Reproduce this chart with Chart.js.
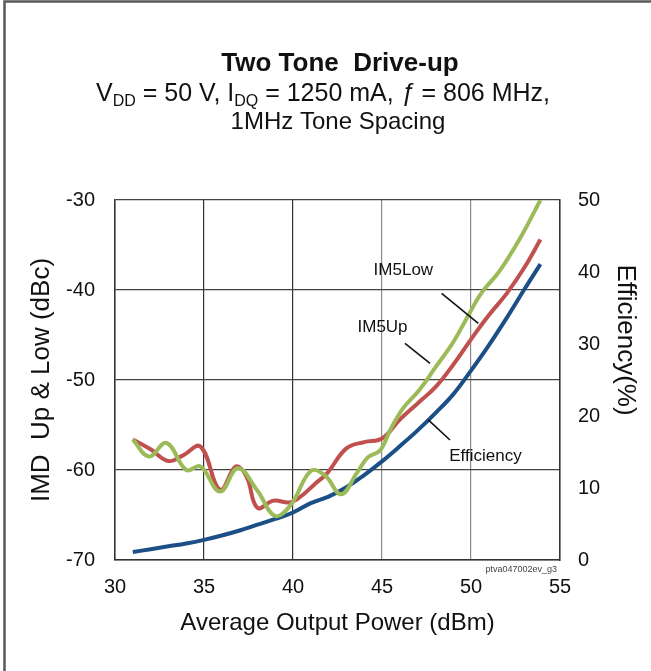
<!DOCTYPE html>
<html><head><meta charset="utf-8">
<script src="https://cdn.jsdelivr.net/npm/chart.js@4.4.1/dist/chart.umd.min.js"></script>
<style>html,body{margin:0;padding:0;background:#fff;}#wrap{width:651px;height:671px;}</style>
</head><body><div id="wrap"><canvas id="c" width="651" height="671"></canvas></div>
<script>
const FONT = '"Liberation Sans", Arial, Helvetica, sans-serif';

// ---- data ----
const xTickValues = [30, 35, 40, 45, 50, 55];
const leftTickValues = [-70, -60, -50, -40, -30];
const rightTickValues = [0, 10, 20, 30, 40, 50];

const im5UpPower = [31.0,31.9,32.9,34.0,34.8,35.9,36.9,38.0,39.0,39.9,41.0,41.8,42.7,43.6,44.2,44.9,45.5,46.2,47.1,48.0,49.0,49.8,50.6,51.6,52.8,53.9];
const im5UpDbc   = [-56.6,-58.5,-57.0,-60.0,-59.6,-62.4,-59.8,-62.3,-65.1,-63.8,-60.1,-60.6,-62.7,-60.3,-58.6,-57.8,-55.4,-53.1,-51.1,-48.6,-45.8,-43.0,-40.3,-37.9,-34.1,-30.0];

const im5LowPower = [31.0,32.0,33.0,33.8,34.8,35.9,36.8,37.4,38.0,38.9,39.8,40.4,41.2,41.9,43.0,44.0,45.0,46.0,47.0,48.0,49.0,50.1,51.0,52.0,53.0,53.9];
const im5LowDbc   = [-56.6,-57.7,-59.0,-58.4,-57.4,-62.2,-59.6,-60.8,-64.2,-63.4,-63.6,-63.0,-61.6,-60.4,-57.6,-56.9,-56.5,-54.4,-52.6,-50.8,-48.3,-45.2,-42.8,-40.4,-37.5,-34.4];

const effPower   = [31,32,33,34,35,36,37,38,39,40,41,42,43,44,45,46,47,48,49,50,51,52,53,53.9];
const efficiency = [1.1,1.5,1.9,2.3,2.8,3.4,4.1,4.9,5.7,6.6,7.9,8.8,10.1,11.8,13.7,15.8,18.0,20.4,23.0,26.3,29.8,33.6,37.6,41.1];

// annotation labels (data units on x / left axis)
const notes = [
  {text: 'IM5Low',     x: 46.2,  y: -37.8, from: [48.35, -40.37], to: [50.41, -43.70]},
  {text: 'IM5Up',      x: 45.03, y: -44.2, from: [46.29, -45.92], to: [47.70, -48.14]},
  {text: 'Efficiency', x: 50.81, y: -58.44, from: [47.60, -54.44], to: [48.82, -56.67]}
];

const toPts = (xs, ys) => xs.map((x, i) => ({x: x, y: ys[i]}));

const frameAndText = {
  id: 'frameAndText',
  beforeDraw(chart) {
    const ctx = chart.ctx;
    ctx.save();
    ctx.fillStyle = '#fff';
    ctx.fillRect(0, 0, chart.width, chart.height);
    ctx.strokeStyle = '#5a5a5a';
    ctx.lineWidth = 2.5;
    ctx.beginPath();
    ctx.moveTo(4.5, chart.height);
    ctx.lineTo(4.5, 1.5);
    ctx.lineTo(chart.width, 1.5);
    ctx.stroke();
    ctx.restore();
  },
  afterDraw(chart) {
    const ctx = chart.ctx;
    ctx.save();
    ctx.fillStyle = '#111';
    ctx.textBaseline = 'alphabetic';
    // main title
    ctx.font = 'bold 26px ' + FONT;
    ctx.textAlign = 'center';
    ctx.fillText('Two Tone  Drive-up', 340, 71);
    // subtitle line with subscripts
    const segs = [
      {t: 'V'}, {t: 'DD', sub: true}, {t: ' = 50 V, I'}, {t: 'DQ', sub: true},
      {t: ' = 1250 mA, '}, {t: 'ƒ', it: true}, {t: ' = 806 MHz,'}
    ];
    const fontFor = s => (s.it ? 'italic ' : '') + (s.sub ? '16px ' : '25px ') + FONT;
    let total = 0;
    segs.forEach(s => { ctx.font = fontFor(s); s.w = ctx.measureText(s.t).width; total += s.w; });
    let cx = 323 - total / 2;
    ctx.textAlign = 'left';
    segs.forEach(s => {
      ctx.font = fontFor(s);
      ctx.fillText(s.t, cx, s.sub ? 106 : 101);
      cx += s.w;
    });
    ctx.font = '24px ' + FONT;
    ctx.textAlign = 'center';
    ctx.fillText('1MHz Tone Spacing', 338, 129);
    // right axis title
    ctx.save();
    ctx.translate(625, 340);
    ctx.rotate(Math.PI / 2);
    ctx.font = '26px ' + FONT;
    ctx.textAlign = 'center';
    ctx.textBaseline = 'middle';
    ctx.fillText('Efficiency(%)', 0, 0);
    ctx.restore();
    // watermark
    ctx.font = '9px ' + FONT;
    ctx.textAlign = 'right';
    ctx.textBaseline = 'middle';
    ctx.fillStyle = '#444';
    ctx.fillText('ptva047002ev_g3', 557, 570);
    ctx.restore();
  },
  afterDatasetsDraw(chart) {
    const ctx = chart.ctx;
    const xs = chart.scales.x, ys = chart.scales.y;
    ctx.save();
    ctx.strokeStyle = '#111';
    ctx.lineWidth = 1.6;
    ctx.fillStyle = '#111';
    ctx.font = '17px ' + FONT;
    ctx.textAlign = 'center';
    ctx.textBaseline = 'middle';
    notes.forEach(n => {
      ctx.beginPath();
      ctx.moveTo(xs.getPixelForValue(n.from[0]), ys.getPixelForValue(n.from[1]));
      ctx.lineTo(xs.getPixelForValue(n.to[0]), ys.getPixelForValue(n.to[1]));
      ctx.stroke();
      ctx.fillText(n.text, xs.getPixelForValue(n.x), ys.getPixelForValue(n.y));
    });
    ctx.restore();
  }
};

const lineStyle = {pointRadius: 0, borderWidth: 4, tension: 0.4, fill: false};

new Chart(document.getElementById('c'), {
  type: 'line',
  data: {
    datasets: [
      Object.assign({label: 'IM5Up', data: toPts(im5UpPower, im5UpDbc), borderColor: '#9BBB59', yAxisID: 'y'}, lineStyle),
      Object.assign({label: 'IM5Low', data: toPts(im5LowPower, im5LowDbc), borderColor: '#C0504D', yAxisID: 'y'}, lineStyle),
      Object.assign({label: 'Efficiency', data: toPts(effPower, efficiency), borderColor: '#1B4F86', yAxisID: 'y1'}, lineStyle)
    ]
  },
  options: {
    responsive: false,
    animation: false,
    events: [],
    layout: {padding: {top: 200, left: 0, right: 0, bottom: 0}},
    plugins: {legend: {display: false}, tooltip: {enabled: false}, title: {display: false}},
    scales: {
      x: {
        type: 'linear', position: 'bottom', min: 30, max: 55,
        afterBuildTicks: s => { s.ticks = xTickValues.map(v => ({value: v})); },
        afterFit: s => { s.height = 111; },
        ticks: {font: {family: FONT, size: 20}, color: '#111', padding: 15, maxRotation: 0},
        grid: {drawTicks: false, lineWidth: 1.2,
          color: c => (c.tick && (c.tick.value === 45 || c.tick.value === 50)) ? '#8a8a8a' : '#333'},
        border: {display: true, color: '#333', width: 1.5},
        title: {display: true, text: 'Average Output Power (dBm)', font: {family: FONT, size: 24}, color: '#111', padding: {top: 0, bottom: 33}}
      },
      y: {
        type: 'linear', position: 'left', min: -70, max: -30,
        afterBuildTicks: s => { s.ticks = leftTickValues.map(v => ({value: v})); },
        afterFit: s => { s.width = 115; },
        ticks: {font: {family: FONT, size: 20}, color: '#111', padding: 20},
        grid: {drawTicks: false, lineWidth: 1.2, color: '#444'},
        border: {display: true, color: '#333', width: 1.5},
        title: {display: true, text: 'IMD  Up & Low (dBc)', font: {family: FONT, size: 26}, color: '#111', padding: {top: 26, bottom: 0}}
      },
      y1: {
        type: 'linear', position: 'right', min: 0, max: 50,
        afterBuildTicks: s => { s.ticks = rightTickValues.map(v => ({value: v})); },
        afterFit: s => { s.width = 91; },
        ticks: {font: {family: FONT, size: 20}, color: '#111', padding: 18},
        grid: {drawOnChartArea: false, drawTicks: false},
        border: {display: true, color: '#333', width: 1.5}
      }
    }
  },
  plugins: [frameAndText]
});
</script></body></html>
